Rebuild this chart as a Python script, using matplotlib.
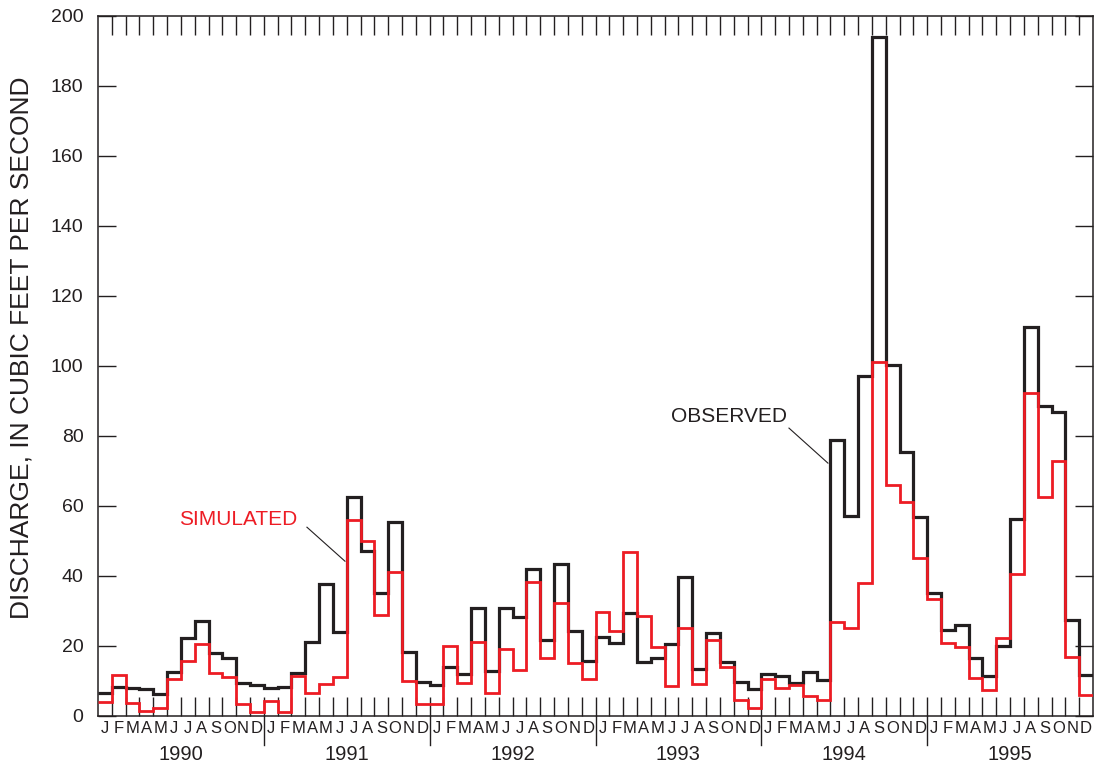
import matplotlib
matplotlib.use('Agg')
import matplotlib.pyplot as plt
import numpy as np

plt.rcParams['font.family'] = ['Liberation Sans', 'DejaVu Sans']

# monthly mean discharge, cubic feet per second, Jan 1990 - Dec 1995
years = ['1990', '1991', '1992', '1993', '1994', '1995']
month_letters = ['J', 'F', 'M', 'A', 'M', 'J', 'J', 'A', 'S', 'O', 'N', 'D']

obs_1990 = [6.5, 8.2, 7.9, 7.7, 6.3, 12.5, 22.4, 27.1, 17.9, 16.5, 9.5, 8.8]
obs_1991 = [8.0, 8.2, 12.2, 21.0, 37.6, 23.9, 62.4, 47.2, 35.0, 55.4, 18.2, 9.8]
obs_1992 = [8.8, 13.9, 11.9, 30.7, 12.8, 30.8, 28.2, 42.1, 21.7, 43.4, 24.3, 15.8]
obs_1993 = [22.6, 20.7, 29.5, 15.3, 16.6, 20.5, 39.6, 13.4, 23.8, 15.3, 9.8, 7.6]
obs_1994 = [12.0, 11.5, 9.5, 12.5, 10.3, 78.8, 57.0, 97.0, 193.8, 100.3, 75.5, 56.7]
obs_1995 = [35.0, 24.5, 26.0, 16.5, 11.5, 20.1, 56.2, 111.2, 88.6, 86.8, 27.4, 11.7]

sim_1990 = [3.9, 11.7, 3.8, 1.5, 2.4, 10.5, 15.8, 20.6, 12.2, 11.0, 3.4, 1.1]
sim_1991 = [4.4, 1.0, 11.5, 6.7, 9.2, 11.2, 56.1, 50.0, 28.8, 41.0, 10.1, 3.4]
sim_1992 = [3.4, 20.1, 9.3, 21.2, 6.5, 19.0, 13.1, 38.3, 16.6, 32.3, 15.0, 10.5]
sim_1993 = [29.8, 24.3, 46.7, 28.5, 19.8, 8.6, 25.0, 9.1, 21.7, 13.9, 4.6, 2.2]
sim_1994 = [10.7, 7.9, 8.8, 5.8, 4.6, 26.9, 25.0, 37.9, 101.0, 65.9, 61.1, 45.0]
sim_1995 = [33.4, 20.7, 19.6, 10.9, 7.4, 22.4, 40.4, 92.1, 62.5, 72.7, 16.9, 6.0]

observed = np.concatenate([obs_1990, obs_1991, obs_1992, obs_1993, obs_1994, obs_1995])
simulated = np.concatenate([sim_1990, sim_1991, sim_1992, sim_1993, sim_1994, sim_1995])

BLACK = '#231f20'
RED = '#ed1c24'

n = len(observed)
edges = np.arange(n + 1)

fig = plt.figure(figsize=(10.96, 7.68), dpi=100)
ax = fig.add_axes([98/1096, 1-716/768, (1093-98)/1096, (716-15.5)/768])

ax.stairs(observed, edges, baseline=None, color=BLACK, lw=2.3, zorder=3)
ax.stairs(simulated, edges, baseline=None, color=RED, lw=2.0, zorder=4)

ax.set_xlim(0, n)
ax.set_ylim(0, 200)

for s in ax.spines.values():
    s.set_linewidth(1.1)
    s.set_color(BLACK)

# month boundary ticks (top and bottom), letters at month centres
ax.set_xticks(np.arange(1, n))
ax.set_xticklabels([])
ax.set_xticks(np.arange(n) + 0.5, minor=True)
ax.set_xticklabels(month_letters * len(years), minor=True, fontsize=12)
ax.tick_params(axis='x', which='major', direction='in', length=13.5, width=1.0,
               top=True, bottom=True, color=BLACK)
ax.tick_params(axis='x', which='minor', length=0, pad=3.5, labelcolor=BLACK)

ax.set_yticks(np.arange(0, 201, 20))
ax.tick_params(axis='y', direction='in', length=13, width=1.0, left=True, right=True,
               labelsize=14, pad=10.5, color=BLACK, labelcolor=BLACK)

# year separators below the axis and year labels
xt = ax.get_xaxis_transform()
for k in range(1, len(years)):
    ax.plot([12*k, 12*k], [0, -0.0414], transform=xt, color=BLACK, lw=1.0, clip_on=False)
for k, yr in enumerate(years):
    ax.text(12*k + 6, -0.0549, yr, transform=xt, ha='center', va='center',
            fontsize=14.5, color=BLACK)

fig.text(22/1096, 1-348/768, 'DISCHARGE, IN CUBIC FEET PER SECOND', rotation=90,
         ha='center', va='center', fontsize=19, color=BLACK)

# labels with leader lines
ax.text(45.66, 85.6, 'OBSERVED', ha='center', va='center', fontsize=15, color=BLACK)
ax.plot([50.0, 52.82], [82.2, 72.2], color=BLACK, lw=0.8)
ax.text(10.13, 56.2, 'SIMULATED', ha='center', va='center', fontsize=15, color=RED)
ax.plot([15.12, 17.87], [53.9, 44.2], color=BLACK, lw=0.8)

fig.savefig('out.png', dpi=100)
